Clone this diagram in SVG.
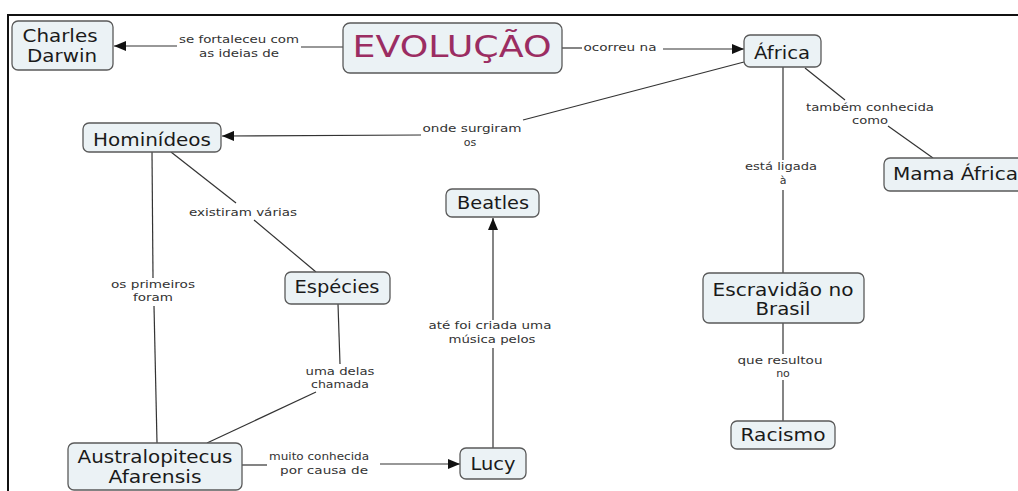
<svg xmlns="http://www.w3.org/2000/svg" width="1018" height="491" viewBox="0 0 1018 491">
<style>
.box{fill:#ebf2f5;stroke:#5a5a5a;stroke-width:1.3}
.nt{font-family:"DejaVu Sans",Verdana,sans-serif;font-size:17px;fill:#1a1a1a;text-anchor:middle}
.lt{font-family:"DejaVu Sans",Verdana,sans-serif;font-size:11px;fill:#333;text-anchor:middle}
.ln{fill:none;stroke:#333;stroke-width:1.2}
.evo{font-family:"DejaVu Sans",Verdana,sans-serif;font-size:30px;fill:#9b2d62;text-anchor:middle}
</style>
<defs>
<marker id="ah" markerUnits="userSpaceOnUse" markerWidth="13" markerHeight="10" refX="12" refY="5" orient="auto">
<path d="M0,0 L12,5 L0,10 Z" fill="#111"/>
</marker>
</defs>
<rect width="1018" height="491" fill="#fff"/>
<g id="frame" stroke="#111" stroke-width="2" fill="none">
<path d="M8,491 L8,15 L1018,15"/>
</g>
<g id="connectors">
<path class="ln" d="M343,47 L301,47"/>
<path class="ln" d="M177,46 L114,46" marker-end="url(#ah)"/>
<text class="lt" x="239" y="43" textLength="120" lengthAdjust="spacingAndGlyphs">se fortaleceu com</text>
<text class="lt" x="239" y="57" textLength="80" lengthAdjust="spacingAndGlyphs">as ideias de</text>
<path class="ln" d="M562,48 L582,48"/>
<path class="ln" d="M663,49 L744,49" marker-end="url(#ah)"/>
<text class="lt" x="620" y="51" textLength="73" lengthAdjust="spacingAndGlyphs">ocorreu na</text>
<path class="ln" d="M744,62 L523,120"/>
<path class="ln" d="M421,135 L222,136" marker-end="url(#ah)"/>
<text class="lt" x="472" y="132" textLength="99" lengthAdjust="spacingAndGlyphs">onde surgiram</text>
<text class="lt" x="470" y="146">os</text>
<path class="ln" d="M805,68 L845,100"/>
<path class="ln" d="M888,126 L933,158"/>
<text class="lt" x="870" y="111" textLength="128" lengthAdjust="spacingAndGlyphs">também conhecida</text>
<text class="lt" x="870" y="124" textLength="36" lengthAdjust="spacingAndGlyphs">como</text>
<path class="ln" d="M783,67 L783,160"/>
<path class="ln" d="M783,190 L783,273"/>
<text class="lt" x="781" y="170" textLength="72" lengthAdjust="spacingAndGlyphs">está ligada</text>
<text class="lt" x="783" y="184">à</text>
<path class="ln" d="M152,152 L153,278"/>
<path class="ln" d="M154,306 L157,443"/>
<text class="lt" x="153" y="288" textLength="84" lengthAdjust="spacingAndGlyphs">os primeiros</text>
<text class="lt" x="153" y="301" textLength="40" lengthAdjust="spacingAndGlyphs">foram</text>
<path class="ln" d="M171,152 L236,203"/>
<path class="ln" d="M254,220 L316,272"/>
<text class="lt" x="243" y="216" textLength="108" lengthAdjust="spacingAndGlyphs">existiram várias</text>
<path class="ln" d="M338,304 L340,364"/>
<path class="ln" d="M316,392 L207,443"/>
<text class="lt" x="340" y="375" textLength="69" lengthAdjust="spacingAndGlyphs">uma delas</text>
<text class="lt" x="340" y="388" textLength="58" lengthAdjust="spacingAndGlyphs">chamada</text>
<path class="ln" d="M242,465 L267,465"/>
<path class="ln" d="M380,464 L460,464" marker-end="url(#ah)"/>
<text class="lt" x="319" y="460" textLength="100" lengthAdjust="spacingAndGlyphs">muito conhecida</text>
<text class="lt" x="324" y="474" textLength="88" lengthAdjust="spacingAndGlyphs">por causa de</text>
<path class="ln" d="M493,448 L493,348"/>
<path class="ln" d="M493,320 L493,218" marker-end="url(#ah)"/>
<text class="lt" x="490" y="329" textLength="123" lengthAdjust="spacingAndGlyphs">até foi criada uma</text>
<text class="lt" x="492" y="343" textLength="87" lengthAdjust="spacingAndGlyphs">música pelos</text>
<path class="ln" d="M783,323 L783,354"/>
<path class="ln" d="M783,380 L783,421"/>
<text class="lt" x="780" y="364" textLength="85" lengthAdjust="spacingAndGlyphs">que resultou</text>
<text class="lt" x="783" y="377">no</text>
</g>
<g id="n-darwin">
<rect class="box" x="12" y="21" width="101" height="49" rx="6"/>
<text class="nt" x="60" y="42" textLength="75" lengthAdjust="spacingAndGlyphs">Charles</text>
<text class="nt" x="62" y="62" textLength="70" lengthAdjust="spacingAndGlyphs">Darwin</text>
</g>
<g id="n-evolucao">
<rect class="box" x="343" y="23" width="219" height="50" rx="7"/>
<text class="evo" x="452" y="57" textLength="199" lengthAdjust="spacingAndGlyphs">EVOLUÇÃO</text>
</g>
<g id="n-africa">
<rect class="box" x="744" y="35" width="77" height="32" rx="6"/>
<text class="nt" x="782" y="59" textLength="56" lengthAdjust="spacingAndGlyphs">África</text>
</g>
<g id="n-hominideos">
<rect class="box" x="83" y="123" width="138" height="29" rx="6"/>
<text class="nt" x="152" y="146" textLength="118" lengthAdjust="spacingAndGlyphs">Hominídeos</text>
</g>
<g id="n-mama">
<rect class="box" x="884" y="158" width="145" height="33" rx="6"/>
<text class="nt" x="893" y="180" style="text-anchor:start" textLength="125" lengthAdjust="spacingAndGlyphs">Mama África</text>
</g>
<g id="n-beatles">
<rect class="box" x="446" y="189" width="93" height="28" rx="6"/>
<text class="nt" x="493" y="209" textLength="72" lengthAdjust="spacingAndGlyphs">Beatles</text>
</g>
<g id="n-especies">
<rect class="box" x="285" y="272" width="105" height="32" rx="6"/>
<text class="nt" x="337" y="293" textLength="85" lengthAdjust="spacingAndGlyphs">Espécies</text>
</g>
<g id="n-escravidao">
<rect class="box" x="703" y="273" width="161" height="50" rx="6"/>
<text class="nt" x="783" y="296" textLength="141" lengthAdjust="spacingAndGlyphs">Escravidão no</text>
<text class="nt" x="783" y="315" textLength="55" lengthAdjust="spacingAndGlyphs">Brasil</text>
</g>
<g id="n-racismo">
<rect class="box" x="731" y="421" width="104" height="28" rx="6"/>
<text class="nt" x="783" y="441" textLength="85" lengthAdjust="spacingAndGlyphs">Racismo</text>
</g>
<g id="n-australopitecus">
<rect class="box" x="68" y="443" width="174" height="47" rx="6"/>
<text class="nt" x="155" y="463" textLength="155" lengthAdjust="spacingAndGlyphs">Australopitecus</text>
<text class="nt" x="155" y="483" textLength="93" lengthAdjust="spacingAndGlyphs">Afarensis</text>
</g>
<g id="n-lucy">
<rect class="box" x="460" y="448" width="66" height="31" rx="6"/>
<text class="nt" x="493" y="470" textLength="45" lengthAdjust="spacingAndGlyphs">Lucy</text>
</g>
</svg>
